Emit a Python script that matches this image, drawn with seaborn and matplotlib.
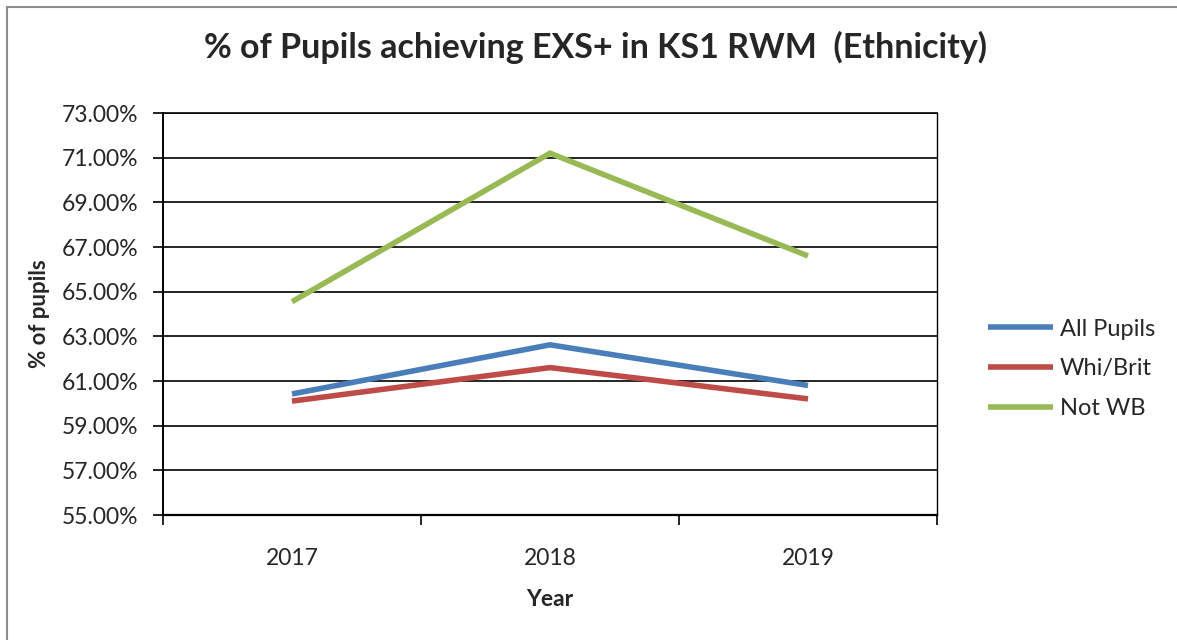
import matplotlib
matplotlib.use("Agg")
import matplotlib.pyplot as plt
import matplotlib.patches as mpatches
from matplotlib.ticker import FixedLocator, FuncFormatter
import seaborn as sns
import pandas as pd

years = ["2017", "2018", "2019"]
all_pupils = [60.42, 62.62, 60.80]
whi_brit = [60.10, 61.60, 60.20]
not_wb = [64.55, 71.20, 66.60]
series_names = ["All Pupils", "Whi/Brit", "Not WB"]
colors = ["#4A7EBB", "#BE4B48", "#98B954"]

rows = []
for name, vals in zip(series_names, [all_pupils, whi_brit, not_wb]):
    for i, (y, v) in enumerate(zip(years, vals)):
        rows.append({"idx": i, "Year": y, "value": v, "series": name})
df = pd.DataFrame(rows)

sns.set_style("white")
plt.rcParams['font.family'] = ['Lato', 'DejaVu Sans']

fig = plt.figure(figsize=(11.77, 6.40), dpi=100)
ax = fig.add_axes([163/1177, 1-515/640, (937-163)/1177, (515-113)/640])

sns.lineplot(data=df, x="idx", y="value", hue="series", hue_order=series_names,
             palette=colors, linewidth=4.0, ax=ax, legend=True)
for ln in ax.get_lines():
    ln.set_solid_capstyle('butt')
    ln.set_solid_joinstyle('miter')

ax.set_xlim(-0.5, 2.5)
ax.set_ylim(55, 73)
ax.yaxis.set_major_locator(FixedLocator([55 + 2*i for i in range(10)]))
ax.yaxis.set_major_formatter(FuncFormatter(lambda v, p: f"{v:.2f}%"))
ax.set_xticks([-0.5, 0.5, 1.5, 2.5])
ax.set_xticklabels([])
ax.set_xticks([0, 1, 2], minor=True)
ax.set_xticklabels(years, minor=True)
ax.tick_params(axis='x', which='major', length=7, width=1.2, direction='out', color='black', bottom=True)
ax.tick_params(axis='x', which='minor', length=0, labelsize=16.5, pad=24)
ax.tick_params(axis='y', which='major', length=7, width=1.2, direction='out', color='black', left=True, labelsize=16.5, pad=11)

ax.grid(axis='y', color='black', linewidth=1.2)
for s in ax.spines.values():
    s.set_visible(True)
    s.set_color('black')
ax.spines['left'].set_linewidth(1.4)
ax.spines['bottom'].set_linewidth(1.6)
ax.spines['top'].set_linewidth(1.2)
ax.spines['right'].set_linewidth(1.0)

ax.set_xlabel("Year", fontsize=16.5, fontweight='bold', labelpad=14)
ax.set_ylabel("% of pupils", fontsize=16, fontweight='bold', labelpad=8)

fig.suptitle("% of Pupils achieving EXS+ in KS1 RWM  (Ethnicity)", x=596/1177, y=1-47/640,
             fontsize=24.5, fontweight='bold', va='center')

leg = ax.legend(loc='center left', bbox_to_anchor=(988/1177, 1-369/640),
                bbox_transform=fig.transFigure, frameon=False, borderpad=0, borderaxespad=0,
                fontsize=17, handlelength=2.75, handletextpad=0.3, labelspacing=0.8)
for line in leg.get_lines():
    line.set_linewidth(4)
    line.set_solid_capstyle('butt')

border = mpatches.Rectangle((7/1177, -0.1), 1.2, 1-7/640 + 0.1, transform=fig.transFigure,
                            fill=False, edgecolor='#8c8c8c', linewidth=1.5)
fig.patches.append(border)

fig.savefig("out.png", dpi=100)
